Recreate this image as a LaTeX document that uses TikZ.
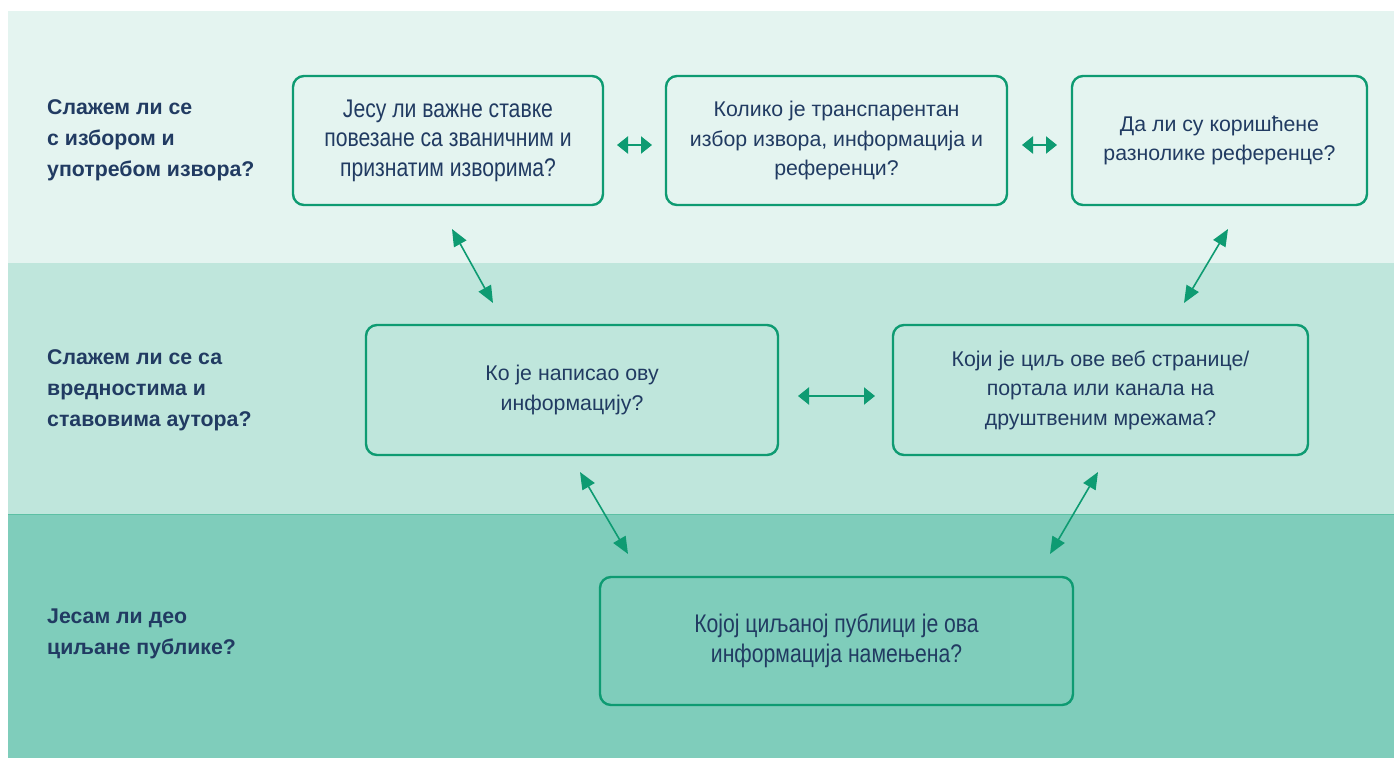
\documentclass[tikz,border=0pt]{standalone}
\usepackage{fontspec}
\setmainfont{Liberation Sans}
\newfontfamily\narrowfont[FakeStretch=0.83]{Liberation Sans}
\usetikzlibrary{arrows.meta}
\definecolor{bandA}{HTML}{E4F4F0}
\definecolor{bandB}{HTML}{BFE6DC}
\definecolor{bandC}{HTML}{7FCDBB}
\definecolor{bandline}{HTML}{5CC0A4}
\definecolor{grn}{HTML}{0E9B72}
\definecolor{navy}{HTML}{213B62}
\tikzset{
  qbox/.style={draw=grn, line width=2.4pt, rounded corners=11pt, align=center,
    text=navy, font=\fontsize{21.3}{29.5}\selectfont, inner sep=0pt},
  nbox/.style={qbox, font=\narrowfont\fontsize{25.5}{29.5}\selectfont},
  rowlabel/.style={anchor=west, align=left, text=navy, inner sep=0pt,
    font=\fontsize{21.3}{31}\selectfont\bfseries},
  harrow/.style={grn, line width=2.2pt, {Triangle[width=17pt,length=11pt]}-{Triangle[width=17pt,length=11pt]}},
  darrow/.style={grn, line width=1.6pt, {Triangle[width=14pt,length=17pt]}-{Triangle[width=14pt,length=17pt]}},
}
\begin{document}
\begin{tikzpicture}[x=1pt,y=-1pt]
\useasboundingbox (0,0) rectangle (1394,758);
\fill[white] (0,0) rectangle (1394,758);
\fill[bandA] (8,11) rectangle (1394,263);
\fill[bandB] (8,263) rectangle (1394,514);
\fill[bandC] (8,514) rectangle (1394,758);
\draw[bandline, line width=0.8pt] (8,514) -- (1394,514);

\node[rowlabel] (l1) at (47,140) {Слажем ли се\\с избором и\\употребом извора?};
\node[rowlabel] (l2) at (47,390) {Слажем ли се са\\вредностима и\\ставовима аутора?};
\node[rowlabel] (l3) at (47,634) {Јесам ли део\\циљане публике?};

\node[nbox, minimum width=310pt, minimum height=129pt] (a) at (448,140.5)
  {Јесу ли важне ставке\\повезане са званичним и\\признатим изворима?};
\node[qbox, minimum width=341pt, minimum height=129pt] (b) at (836.5,140.5)
  {Колико је транспарентан\\избор извора, информација и\\референци?};
\node[qbox, minimum width=295pt, minimum height=129pt] (c) at (1219.5,140.5)
  {Да ли су коришћене\\разнолике референце?};
\node[qbox, minimum width=412pt, minimum height=130pt] (d) at (572,390)
  {Ко је написао ову\\информацију?};
\node[qbox, minimum width=415pt, minimum height=130pt] (e) at (1100.5,390)
  {Који је циљ ове веб странице/\\портала или канала на\\друштвеним мрежама?};
\node[nbox, minimum width=473pt, minimum height=128pt] (f) at (836.5,641)
  {Којој циљаној публици је ова\\информација намењена?};

\coordinate (ab1) at (617,145); \coordinate (ab2) at (652,145);
\coordinate (bc1) at (1022,145); \coordinate (bc2) at (1057,145);
\coordinate (de1) at (798,396); \coordinate (de2) at (875,396);
\draw[harrow] (ab1) -- (ab2);
\draw[harrow] (bc1) -- (bc2);
\draw[harrow] (de1) -- (de2);

\coordinate (ad1) at (452,229); \coordinate (ad2) at (493,303);
\coordinate (ce1) at (1228,229); \coordinate (ce2) at (1184,303);
\coordinate (df1) at (580,472); \coordinate (df2) at (628,554);
\coordinate (ef1) at (1098,472); \coordinate (ef2) at (1050,554);
\draw[darrow] (ad1) -- (ad2);
\draw[darrow] (ce1) -- (ce2);
\draw[darrow] (df1) -- (df2);
\draw[darrow] (ef1) -- (ef2);
\end{tikzpicture}
\end{document}
